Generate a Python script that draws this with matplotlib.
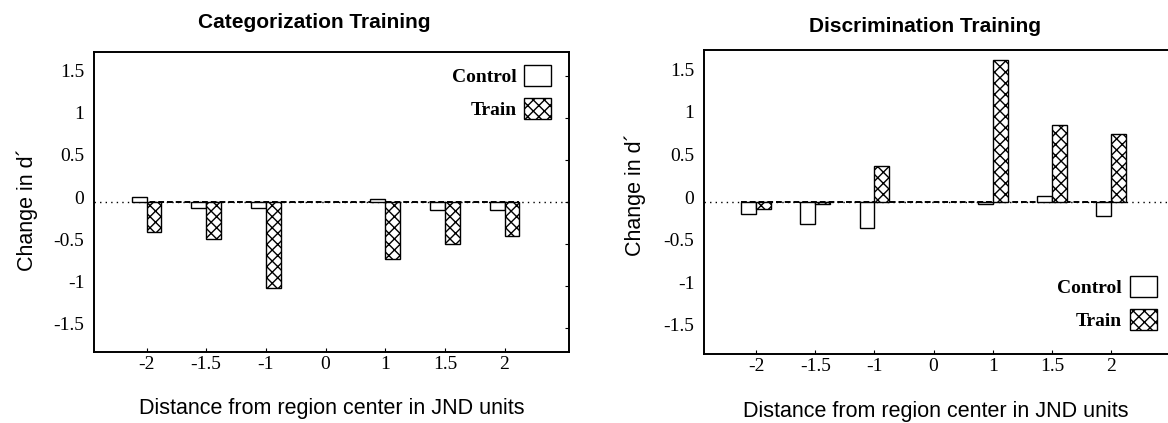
import numpy as np
import matplotlib
matplotlib.use("Agg")
import matplotlib.pyplot as plt
from matplotlib.patches import Patch
from matplotlib.transforms import ScaledTranslation

plt.rcParams["font.family"] = "Liberation Sans"
plt.rcParams["hatch.linewidth"] = 1.0

categories = ["-2", "-1.5", "-1", "0", "1", "1.5", "2"]
yticks = [-1.5, -1, -0.5, 0, 0.5, 1, 1.5]
ytick_labels = ["-1.5", "-1", "-0.5", "0", "0.5", "1", "1.5"]

# Categorization training panel
cat_control = [0.06, -0.07, -0.07, np.nan, 0.035, -0.09, -0.09]
cat_train = [-0.36, -0.44, -1.02, np.nan, -0.68, -0.50, -0.40]

# Discrimination training panel
dis_control = [-0.14, -0.26, -0.31, np.nan, -0.02, 0.07, -0.17]
dis_train = [-0.08, -0.02, 0.42, np.nan, 1.67, 0.90, 0.80]

W, H = 1168, 423
fig = plt.figure(figsize=(W / 100, H / 100), dpi=100)


def px_axes(left, top, right, bottom):
    return fig.add_axes([left / W, 1 - bottom / H, (right - left) / W, (bottom - top) / H])


def panel(ax, control, train, title, title_xy, ylab_xy, xlab_xy, leg_anchor):
    x = np.arange(len(categories))
    w = 0.25
    ax.axhline(0, color="black", lw=1, linestyle=(0, (1, 3)), zorder=1)
    ax.hlines(0, -0.25, len(categories) - 1 + 0.25, color="black", lw=1.4,
              linestyles=(0, (3, 1.5)), zorder=2)
    ax.bar(x - w / 2, control, width=w, facecolor="white", edgecolor="black",
           lw=1, zorder=3)
    ax.bar(x + w / 2, train, width=w, facecolor="white", edgecolor="black",
           lw=1, hatch="xxx", zorder=3)

    ax.set_xlim(-0.88, 7.08)
    ax.set_ylim(-1.785, 1.785)
    ax.set_xticks(x)
    ax.set_xticklabels(categories, family="Liberation Serif", fontsize=14)
    ax.set_yticks(yticks)
    ax.set_yticklabels(ytick_labels, family="Liberation Serif", fontsize=14)
    ax.tick_params(axis="x", direction="in", length=3, pad=3)
    ax.tick_params(axis="y", direction="in", length=3, left=False, right=True,
                   labelleft=True, pad=7)
    for lab in ax.get_yticklabels():
        lab.set_transform(lab.get_transform() + ScaledTranslation(0, 0.05, fig.dpi_scale_trans))
    for s in ax.spines.values():
        s.set_linewidth(1.4)

    ax.text(title_xy[0], title_xy[1], title, transform=ax.transAxes, ha="center",
            va="center", fontsize=15, fontweight="bold")
    ax.set_ylabel("Change in d\u00b4", fontsize=15.5, va="center")
    ax.yaxis.set_label_coords(*ylab_xy)
    ax.set_xlabel("Distance from region center in JND units", fontsize=15.5, va="center")
    ax.xaxis.set_label_coords(*xlab_xy)

    handles = [Patch(facecolor="white", edgecolor="black", lw=1),
               Patch(facecolor="white", edgecolor="black", lw=1, hatch="xxx")]
    ax.legend(handles, ["Control", "Train"], loc="upper right",
              bbox_to_anchor=leg_anchor, markerfirst=False, frameon=False,
              handlelength=1.4, handleheight=1.3, handletextpad=0.4,
              labelspacing=0.6, borderpad=0, borderaxespad=0,
              prop={"family": "Liberation Serif", "weight": "bold", "size": 14})


ax1 = px_axes(94, 52, 569, 352)
panel(ax1, cat_control, cat_train, "Categorization Training",
      (0.463, 1.097), (-0.141, 0.473), (0.5, -0.187), (0.963, 0.957))

ax2 = px_axes(704, 50, 1175, 354)
panel(ax2, dis_control, dis_train, "Discrimination Training",
      (0.469, 1.076), (-0.146, 0.523), (0.493, -0.19), (0.962, 0.257))

fig.savefig("out.png", dpi=100)
